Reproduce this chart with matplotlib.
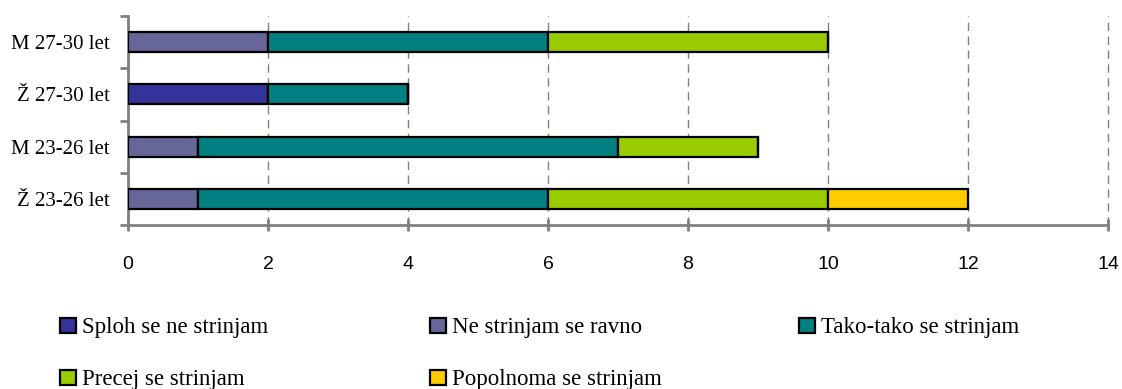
import numpy as np
import matplotlib
matplotlib.use("Agg")
import matplotlib.pyplot as plt

# groups, bottom to top
groups = ["Ž 23-26 let", "M 23-26 let", "Ž 27-30 let", "M 27-30 let"]

answers = ["Sploh se ne strinjam", "Ne strinjam se ravno", "Tako-tako se strinjam",
           "Precej se strinjam", "Popolnoma se strinjam"]
sploh = [0, 0, 2, 0]
ne_strinjam = [1, 1, 0, 2]
tako_tako = [5, 6, 2, 4]
precej = [4, 2, 0, 4]
popolnoma = [2, 0, 0, 0]
colors = ["#333399", "#666699", "#008080", "#99CC00", "#FFCC00"]

series = [sploh, ne_strinjam, tako_tako, precej, popolnoma]

W, H = 1122, 389
fig = plt.figure(figsize=(W / 100, H / 100), dpi=100)
ax = fig.add_axes([128 / W, 1 - 225 / H, 980 / W, 209 / H])

y = np.arange(len(groups))
left = np.zeros(len(groups))
handles = []
for vals, col, name in zip(series, colors, answers):
    vals = np.array(vals, dtype=float)
    b = ax.barh(y, vals, left=left, height=0.38, color=col, edgecolor="black",
                linewidth=1.6, label=name, zorder=3)
    handles.append(b)
    left += vals

ax.set_xlim(0, 14)
ax.set_ylim(-0.5, 3.5)
ax.set_xticks(np.arange(0, 15, 2))
ax.xaxis.grid(True, color="#808080", linestyle=(0, (6, 4)), linewidth=1.0, zorder=0)
for gl in ax.get_xgridlines():
    gl.set_clip_on(False)

# category ticks sit between the bars
ax.set_yticks(np.arange(-0.5, 4, 1))
ax.set_yticklabels([])
ax.set_yticks(y, minor=True)
ax.set_yticklabels(groups, minor=True, fontfamily="Liberation Serif", fontsize=15)
ax.tick_params(axis="y", which="minor", length=0, pad=13)
ax.tick_params(axis="y", which="major", length=6, width=2, color="#808080", direction="out")
ax.tick_params(axis="x", length=8, width=2, color="#808080", direction="inout", pad=18,
               labelsize=14)
for lab in ax.get_xticklabels():
    lab.set_fontfamily("Liberation Sans")

for s in ["top", "right"]:
    ax.spines[s].set_visible(False)
for s in ["left", "bottom"]:
    ax.spines[s].set_color("#808080")
    ax.spines[s].set_linewidth(2)

# legend entries placed in a 3-column grid, filled row by row
col_x = [60, 430, 799]
row_y = [328, 380]
for i, (h, name) in enumerate(zip(handles, answers)):
    cx = col_x[i % 3]
    cy = row_y[i // 3]
    fig.legend([h], [name], loc="center left", bbox_to_anchor=(cx / W, 1 - cy / H),
               frameon=False, prop={"family": "Liberation Serif", "size": 16.5},
               handlelength=0.68, handleheight=0.68, handletextpad=0.3,
               borderpad=0.0, borderaxespad=0.0)

fig.savefig("out.png", dpi=100)
